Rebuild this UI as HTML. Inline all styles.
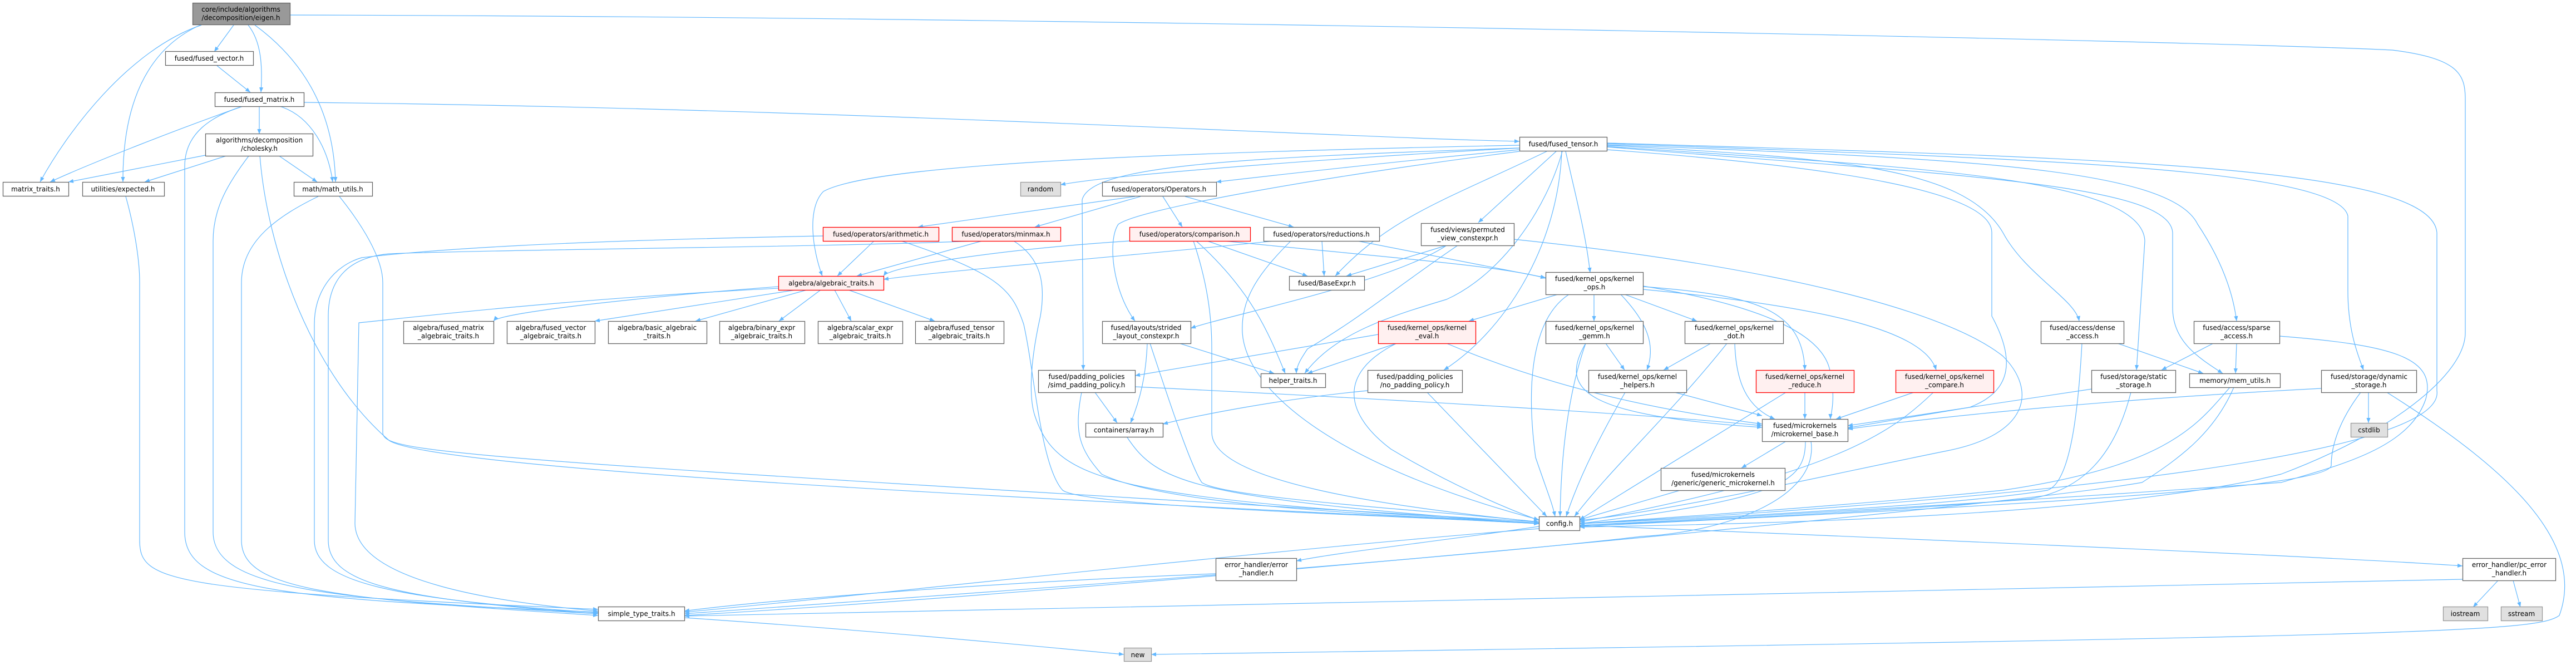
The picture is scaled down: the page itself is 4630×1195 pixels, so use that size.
<!DOCTYPE html>
<html><head><meta charset="utf-8"><style>
html,body{margin:0;padding:0;background:#fff;}
svg{display:block;}
text{font-family:"DejaVu Sans","Liberation Sans",sans-serif;font-size:12px;fill:#000;text-anchor:middle;}
.e{fill:none;stroke:#63b8ff;stroke-width:1.2;}
.n rect{fill:#fff;stroke:#666;stroke-width:1.3;}
.r rect{fill:#fff0f0;stroke:#f00;stroke-width:1.3;}
.g rect{fill:#e0e0e0;stroke:#999;stroke-width:1.3;}
.t rect{fill:#999;stroke:#666;stroke-width:1.3;}
</style></head><body>
<svg width="4630" height="1195" viewBox="0 0 4630 1195" xmlns="http://www.w3.org/2000/svg">
<defs><marker id="a" viewBox="0 0 10 10" refX="10" refY="5" markerWidth="9" markerHeight="9" orient="auto" markerUnits="userSpaceOnUse"><path d="M0 1 L10 5 L0 9 z" fill="#63b8ff"/></marker></defs>
<g class="e" marker-end="url(#a)">
<path d="M420 45 L385 93"/>
<path d="M446 45 C470 75 472 120 469 166"/>
<path d="M362 45 C230 90 120 239 72 327"/>
<path d="M360 45 C260 90 220 194 221 327"/>
<path d="M458 45 C540 105 600 194 603 327"/>
<path d="M521 27 C2000 30 4000 75 4300 90 C4420 105 4431 134 4431 179 L4431 598 C4431 672 4300 777 4100 852 C3800 926 3200 941 2839 947"/>
<path d="M390 118 L450 166"/>
<path d="M546 184 C1500 194 2400 247 2731 254"/>
<path d="M436 191 C300 239 150 299 90 327"/>
<path d="M466 191 L466 241"/>
<path d="M503 191 C560 209 590 269 598 327"/>
<path d="M436 191 C380 209 332 239 332 299 L332 956 C332 1061 500 1076 1075 1100"/>
<path d="M369 279 L123 327"/>
<path d="M410 279 L260 327"/>
<path d="M500 279 L570 327"/>
<path d="M448 279 C410 329 383 374 383 433 L383 956 C383 1061 600 1076 1075 1103"/>
<path d="M467 279 C480 448 560 672 700 792 C800 852 2200 911 2766 941"/>
<path d="M226 353 C240 403 251 463 251 508 L251 971 C251 1046 300 1061 1075 1095"/>
<path d="M572 353 C500 388 434 433 434 508 L434 971 C434 1061 600 1076 1075 1106"/>
<path d="M610 353 C650 403 688 463 688 508 L688 777 C688 814 800 822 2766 938"/>
<path d="M2731 266 C2400 284 2000 314 1906 332"/>
<path d="M2731 269 C2500 291 2300 314 2186 327"/>
<path d="M2731 261 C2000 276 1560 299 1480 344 C1450 374 1460 448 1478 496"/>
<path d="M2731 272 C2400 314 2050 374 2010 403 C1990 433 2000 523 2040 577"/>
<path d="M2731 266 C2200 284 1960 299 1945 359 L1947 665"/>
<path d="M2808 272 C2780 374 2700 493 2600 538 C2500 568 2400 598 2345 671"/>
<path d="M2780 272 C2600 359 2500 388 2400 496"/>
<path d="M2797 272 L2657 400"/>
<path d="M2814 272 C2830 344 2850 418 2858 490"/>
<path d="M2807 272 C2800 448 2700 598 2595 665"/>
<path d="M2888 261 C3300 284 3530 299 3600 418 C3640 493 3730 538 3737 577"/>
<path d="M2888 263 C3400 299 3850 314 3855 433 L3840 665"/>
<path d="M2888 260 C3500 284 3900 299 3950 403 C4000 478 4015 538 4020 577"/>
<path d="M2888 264 C3500 314 3900 329 3905 418 L3905 553 C3905 613 3950 642 3995 671"/>
<path d="M2888 258 C3600 284 4200 299 4220 388 L4220 523 C4220 598 4240 642 4248 665"/>
<path d="M2888 269 C3300 299 3580 344 3580 418 L3580 568 C3620 642 3620 702 3540 732 C3450 747 3400 755 3321 769"/>
<path d="M2888 257 C3800 284 4370 299 4380 418 L4380 702 C4400 837 3400 911 2839 941"/>
<path d="M2040 353 L1650 408"/>
<path d="M2050 353 L1860 408"/>
<path d="M2090 353 L2125 408"/>
<path d="M2130 353 L2325 408"/>
<path d="M1571 433 L1505 496"/>
<path d="M1479 424 C1000 433 780 448 650 463 C600 478 565 523 565 583 L565 971 C565 1046 700 1076 1075 1101"/>
<path d="M1620 433 C1800 493 1820 523 1840 583 C1860 672 1870 837 1910 881 C1950 911 2500 926 2766 941"/>
<path d="M1765 433 L1540 496"/>
<path d="M1822 433 C1870 463 1880 508 1870 568 C1850 657 1850 717 1860 747 C1900 867 2000 896 2766 940"/>
<path d="M1750 433 C1500 444 900 448 700 456 C620 463 590 508 590 568 L590 971 C590 1046 700 1076 1075 1103"/>
<path d="M2030 433 C1800 448 1600 478 1588 496"/>
<path d="M2170 433 L2350 496"/>
<path d="M2150 433 C2250 523 2280 598 2310 671"/>
<path d="M2145 433 C2170 508 2178 568 2178 627 L2178 777 C2178 867 2500 911 2766 938"/>
<path d="M2200 433 C2500 463 2700 478 2778 500"/>
<path d="M2290 433 C2000 463 1700 486 1588 502"/>
<path d="M2376 433 L2380 496"/>
<path d="M2440 433 L2778 499"/>
<path d="M2320 433 C2260 493 2230 538 2233 598 C2240 702 2400 837 2766 934"/>
<path d="M2600 441 L2420 496"/>
<path d="M2620 441 C2500 523 2450 568 2350 627 C2340 642 2330 657 2330 671"/>
<path d="M2600 441 C2500 508 2200 568 2140 590"/>
<path d="M2721 430 C3200 480 3500 560 3600 640 C3660 700 3650 780 3500 810 C3300 850 3000 920 2839 935"/>
<path d="M1399 515 C1200 530 900 560 887 577"/>
<path d="M1430 521 L1069 577"/>
<path d="M1450 521 L1250 577"/>
<path d="M1475 521 L1400 577"/>
<path d="M1500 521 L1530 577"/>
<path d="M1525 521 L1680 577"/>
<path d="M1399 518 C1000 538 700 575 645 580 L638 941 C640 1046 900 1083 1075 1098"/>
<path d="M2120 617 L2290 671"/>
<path d="M2062 617 C2060 672 2050 717 2032 760"/>
<path d="M2067 617 C2100 717 2140 837 2160 867 C2200 896 2600 919 2766 938"/>
<path d="M1968 705 L2008 760"/>
<path d="M1944 705 C1930 777 1940 807 1980 852 C2100 911 2500 926 2766 940"/>
<path d="M2040 695 C2500 717 3000 747 3167 765"/>
<path d="M2026 786 C2080 867 2140 896 2766 941"/>
<path d="M2800 529 L2640 577"/>
<path d="M2865 529 L2865 577"/>
<path d="M2920 529 L3050 577"/>
<path d="M2913 529 C2950 568 2980 613 2960 665"/>
<path d="M2820 529 C2760 568 2740 672 2760 822 C2780 881 2790 904 2795 928"/>
<path d="M2953 515 C3150 530 3240 553 3244 665"/>
<path d="M2953 520 C3300 553 3460 598 3480 665"/>
<path d="M2953 514 C3100 538 3280 583 3290 672 C3300 717 3290 747 3290 753"/>
<path d="M2510 617 L2350 671"/>
<path d="M2477 601 L2040 675"/>
<path d="M2510 617 C2400 672 2420 747 2500 807 C2600 867 2700 911 2766 935"/>
<path d="M2600 617 C2800 702 3000 740 3167 762"/>
<path d="M2886 617 L2920 665"/>
<path d="M2850 617 C2820 702 2806 807 2804 928"/>
<path d="M2850 617 C2800 702 2850 747 3167 768"/>
<path d="M3075 617 L2990 665"/>
<path d="M3104 617 C3000 747 2900 837 2830 928"/>
<path d="M3118 617 C3120 687 3140 732 3190 753"/>
<path d="M2921 705 C2880 777 2840 852 2815 928"/>
<path d="M3010 705 L3167 747"/>
<path d="M2458 702 C2300 717 2150 747 2090 762"/>
<path d="M2565 705 L2780 928"/>
<path d="M3244 705 L3244 753"/>
<path d="M3210 705 L2839 934"/>
<path d="M3440 705 L3300 753"/>
<path d="M3475 705 C3400 777 3300 852 2839 938"/>
<path d="M3210 793 L3130 841"/>
<path d="M3245 793 C3245 867 3200 896 2839 941"/>
<path d="M3255 793 C3270 896 3100 956 2950 964 C2500 1016 1500 1083 1230 1103"/>
<path d="M3020 881 L2839 934"/>
<path d="M3742 617 C3735 747 3720 867 3680 881 C3500 911 3000 934 2839 941"/>
<path d="M3806 617 L3960 671"/>
<path d="M3760 699 L3321 765"/>
<path d="M3830 705 C3800 822 3740 881 3650 896 C3400 919 3000 938 2839 944"/>
<path d="M3978 617 L3885 665"/>
<path d="M4020 617 L4018 671"/>
<path d="M4097 604 C4300 620 4380 642 4360 717 C4330 807 4200 837 4100 867 C3700 896 3200 926 2839 944"/>
<path d="M4008 696 C3950 762 3900 837 3600 881 C3300 911 2900 937 2839 941"/>
<path d="M4015 696 C3980 777 3920 822 3850 867 C3600 911 2000 1061 1230 1106"/>
<path d="M4172 698 C3800 717 3500 747 3321 771"/>
<path d="M4257 705 L4257 760"/>
<path d="M4243 705 C4200 762 4190 807 4190 837 C4180 881 3500 914 2839 946"/>
<path d="M4290 705 C4500 837 4650 971 4600 1106 C4560 1135 4400 1143 2069 1176"/>
<path d="M4490 1043 L4445 1091"/>
<path d="M4517 1043 L4530 1091"/>
<path d="M4426 1041 C3500 1061 2000 1091 1230 1107"/>
<path d="M2766 946 C2600 971 2400 993 2330 1008"/>
<path d="M2839 944 C3500 971 4200 1001 4426 1017"/>
<path d="M2766 950 C2300 986 1500 1076 1230 1100"/>
<path d="M2185 1031 C1800 1046 1400 1076 1230 1098"/>
<path d="M1230 1110 C1600 1135 1900 1165 2020 1176"/>
</g>

<g class="t"><rect x="346.5" y="5.5" width="175" height="39"/><text x="433" y="21">core/include/algorithms</text><text x="433" y="36">/decomposition/eigen.h</text></g>
<g class="n"><rect x="297.5" y="92.5" width="158" height="25"/><text x="376" y="109">fused/fused_vector.h</text></g>
<g class="n"><rect x="386.5" y="166.5" width="160" height="25"/><text x="466" y="183">fused/fused_matrix.h</text></g>
<g class="n"><rect x="369.5" y="240.5" width="193" height="40"/><text x="466" y="256">algorithms/decomposition</text><text x="466" y="271">/cholesky.h</text></g>
<g class="n"><rect x="5.5" y="327.5" width="118" height="25"/><text x="64" y="344">matrix_traits.h</text></g>
<g class="n"><rect x="148.5" y="327.5" width="147" height="25"/><text x="221" y="344">utilities/expected.h</text></g>
<g class="n"><rect x="528.5" y="327.5" width="141" height="25"/><text x="598" y="344">math/math_utils.h</text></g>
<g class="n"><rect x="725.5" y="577.5" width="162" height="40"/><text x="806" y="593">algebra/fused_matrix</text><text x="806" y="608">_algebraic_traits.h</text></g>
<g class="n"><rect x="911.5" y="577.5" width="158" height="40"/><text x="990" y="593">algebra/fused_vector</text><text x="990" y="608">_algebraic_traits.h</text></g>
<g class="n"><rect x="1093.5" y="577.5" width="177" height="40"/><text x="1181" y="593">algebra/basic_algebraic</text><text x="1181" y="608">_traits.h</text></g>
<g class="n"><rect x="1293.5" y="577.5" width="153" height="40"/><text x="1369" y="593">algebra/binary_expr</text><text x="1369" y="608">_algebraic_traits.h</text></g>
<g class="n"><rect x="1470.5" y="577.5" width="152" height="40"/><text x="1546" y="593">algebra/scalar_expr</text><text x="1546" y="608">_algebraic_traits.h</text></g>
<g class="n"><rect x="1645.5" y="577.5" width="159" height="40"/><text x="1724" y="593">algebra/fused_tensor</text><text x="1724" y="608">_algebraic_traits.h</text></g>
<g class="r"><rect x="1399.5" y="496.5" width="189" height="25"/><text x="1494" y="513">algebra/algebraic_traits.h</text></g>
<g class="r"><rect x="1479.5" y="408.5" width="208" height="25"/><text x="1583" y="425">fused/operators/arithmetic.h</text></g>
<g class="r"><rect x="1711.5" y="408.5" width="195" height="25"/><text x="1808" y="425">fused/operators/minmax.h</text></g>
<g class="r"><rect x="2030.5" y="408.5" width="217" height="25"/><text x="2138" y="425">fused/operators/comparison.h</text></g>
<g class="n"><rect x="2271.5" y="408.5" width="208" height="25"/><text x="2375" y="425">fused/operators/reductions.h</text></g>
<g class="g"><rect x="1834.5" y="327.5" width="72" height="25"/><text x="1870" y="344">random</text></g>
<g class="n"><rect x="1981.5" y="327.5" width="205" height="25"/><text x="2083" y="344">fused/operators/Operators.h</text></g>
<g class="n"><rect x="2317.5" y="496.5" width="135" height="25"/><text x="2385" y="513">fused/BaseExpr.h</text></g>
<g class="n"><rect x="1981.5" y="577.5" width="159" height="40"/><text x="2060" y="593">fused/layouts/strided</text><text x="2060" y="608">_layout_constexpr.h</text></g>
<g class="n"><rect x="1866.5" y="665.5" width="174" height="40"/><text x="1953" y="681">fused/padding_policies</text><text x="1953" y="696">/simd_padding_policy.h</text></g>
<g class="n"><rect x="1951.5" y="760.5" width="139" height="25"/><text x="2020" y="777">containers/array.h</text></g>
<g class="n"><rect x="2266.5" y="671.5" width="116" height="25"/><text x="2324" y="688">helper_traits.h</text></g>
<g class="n"><rect x="2185.5" y="1003.5" width="145" height="40"/><text x="2258" y="1019">error_handler/error</text><text x="2258" y="1034">_handler.h</text></g>
<g class="g"><rect x="2020.5" y="1164.5" width="49" height="24"/><text x="2045" y="1181">new</text></g>
<g class="n"><rect x="1075.5" y="1090.5" width="155" height="25"/><text x="1153" y="1107">simple_type_traits.h</text></g>
<g class="n"><rect x="2731.5" y="246.5" width="157" height="25"/><text x="2810" y="263">fused/fused_tensor.h</text></g>
<g class="n"><rect x="2554.5" y="401.5" width="167" height="40"/><text x="2638" y="417">fused/views/permuted</text><text x="2638" y="432">_view_constexpr.h</text></g>
<g class="n"><rect x="2778.5" y="489.5" width="175" height="40"/><text x="2866" y="505">fused/kernel_ops/kernel</text><text x="2866" y="520">_ops.h</text></g>
<g class="r"><rect x="2477.5" y="577.5" width="175" height="40"/><text x="2565" y="593">fused/kernel_ops/kernel</text><text x="2565" y="608">_eval.h</text></g>
<g class="n"><rect x="2778.5" y="577.5" width="175" height="40"/><text x="2866" y="593">fused/kernel_ops/kernel</text><text x="2866" y="608">_gemm.h</text></g>
<g class="n"><rect x="3028.5" y="577.5" width="177" height="40"/><text x="3117" y="593">fused/kernel_ops/kernel</text><text x="3117" y="608">_dot.h</text></g>
<g class="n"><rect x="2458.5" y="665.5" width="170" height="40"/><text x="2543" y="681">fused/padding_policies</text><text x="2543" y="696">/no_padding_policy.h</text></g>
<g class="n"><rect x="2855.5" y="665.5" width="176" height="40"/><text x="2943" y="681">fused/kernel_ops/kernel</text><text x="2943" y="696">_helpers.h</text></g>
<g class="n"><rect x="2766.5" y="928.5" width="73" height="25"/><text x="2803" y="945">config.h</text></g>
<g class="n"><rect x="2985.5" y="841.5" width="223" height="40"/><text x="3097" y="857">fused/microkernels</text><text x="3097" y="872">/generic/generic_microkernel.h</text></g>
<g class="r"><rect x="3156.5" y="665.5" width="176" height="40"/><text x="3244" y="681">fused/kernel_ops/kernel</text><text x="3244" y="696">_reduce.h</text></g>
<g class="r"><rect x="3407.5" y="665.5" width="176" height="40"/><text x="3495" y="681">fused/kernel_ops/kernel</text><text x="3495" y="696">_compare.h</text></g>
<g class="n"><rect x="3167.5" y="753.5" width="154" height="40"/><text x="3244" y="769">fused/microkernels</text><text x="3244" y="784">/microkernel_base.h</text></g>
<g class="n"><rect x="3668.5" y="577.5" width="149" height="40"/><text x="3743" y="593">fused/access/dense</text><text x="3743" y="608">_access.h</text></g>
<g class="n"><rect x="3759.5" y="665.5" width="151" height="40"/><text x="3835" y="681">fused/storage/static</text><text x="3835" y="696">_storage.h</text></g>
<g class="n"><rect x="3943.5" y="577.5" width="154" height="40"/><text x="4020" y="593">fused/access/sparse</text><text x="4020" y="608">_access.h</text></g>
<g class="n"><rect x="3935.5" y="671.5" width="163" height="25"/><text x="4017" y="688">memory/mem_utils.h</text></g>
<g class="n"><rect x="4172.5" y="665.5" width="171" height="40"/><text x="4258" y="681">fused/storage/dynamic</text><text x="4258" y="696">_storage.h</text></g>
<g class="g"><rect x="4225.5" y="760.5" width="66" height="25"/><text x="4258" y="777">cstdlib</text></g>
<g class="n"><rect x="4426.5" y="1003.5" width="167" height="40"/><text x="4510" y="1019">error_handler/pc_error</text><text x="4510" y="1034">_handler.h</text></g>
<g class="g"><rect x="4391.5" y="1090.5" width="80" height="25"/><text x="4431" y="1107">iostream</text></g>
<g class="g"><rect x="4495.5" y="1090.5" width="74" height="25"/><text x="4532" y="1107">sstream</text></g>
</svg>
</body></html>
